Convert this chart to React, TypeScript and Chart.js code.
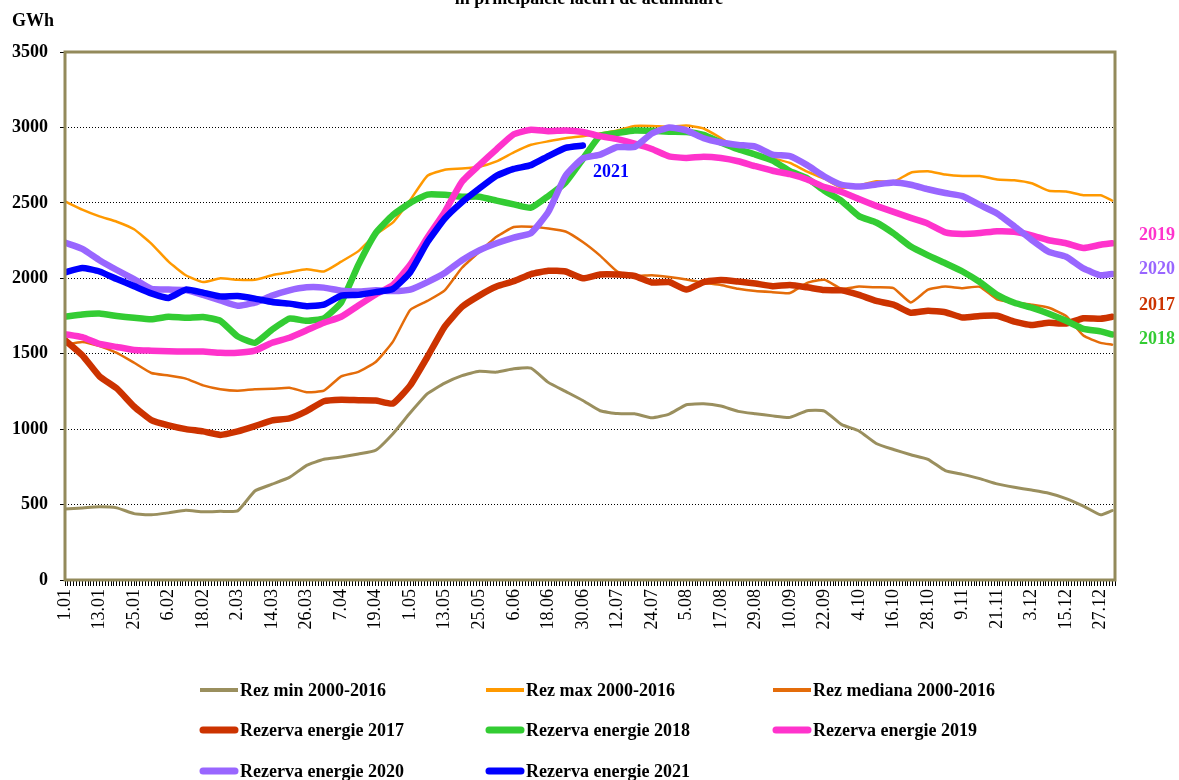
import React, { useEffect, useRef } from 'react';
import { Chart, registerables } from 'chart.js';

Chart.register(...registerables);

const FONT = "'Liberation Serif', 'Times New Roman', serif";

// day-of-year index of each sampled value (every 6 days)
const days = [0, 6, 12, 18, 24, 30, 36, 42, 48, 54, 60, 66, 72, 78, 84, 90, 96, 102, 108, 114, 120, 126, 132, 138, 144, 150, 156, 162, 168, 174, 180, 186, 192, 198, 204, 210, 216, 222, 228, 234, 240, 246, 252, 258, 264, 270, 276, 282, 288, 294, 300, 306, 312, 318, 324, 330, 336, 342, 348, 354, 360, 364];

const tickLabels = ['1.01', '13.01', '25.01', '6.02', '18.02', '2.03', '14.03', '26.03', '7.04', '19.04', '1.05', '13.05', '25.05', '6.06', '18.06', '30.06', '12.07', '24.07', '5.08', '17.08', '29.08', '10.09', '22.09', '4.10', '16.10', '28.10', '9.11', '21.11', '3.12', '15.12', '27.12'];

const rezMin = [470, 478, 485, 478, 440, 432, 445, 462, 452, 455, 458, 590, 635, 680, 760, 800, 815, 835, 860, 970, 1108, 1235, 1305, 1355, 1383, 1378, 1400, 1405, 1310, 1250, 1190, 1122, 1103, 1102, 1075, 1100, 1162, 1168, 1153, 1118, 1102, 1088, 1078, 1122, 1120, 1030, 988, 905, 865, 830, 800, 725, 700, 672, 637, 615, 596, 575, 540, 490, 432, 460];
const rezMax = [2510, 2455, 2410, 2375, 2325, 2230, 2110, 2020, 1975, 2000, 1990, 1990, 2020, 2040, 2060, 2045, 2110, 2180, 2290, 2370, 2519, 2680, 2720, 2728, 2740, 2775, 2835, 2885, 2908, 2928, 2942, 2960, 2980, 3010, 3010, 3005, 3012, 2993, 2930, 2860, 2820, 2795, 2765, 2707, 2660, 2600, 2615, 2643, 2640, 2700, 2710, 2688, 2678, 2678, 2655, 2650, 2630, 2580, 2575, 2550, 2550, 2515];
const rezMediana = [1560, 1578, 1550, 1505, 1440, 1372, 1355, 1335, 1290, 1265, 1255, 1265, 1267, 1275, 1245, 1255, 1350, 1380, 1445, 1580, 1790, 1850, 1920, 2070, 2175, 2275, 2340, 2342, 2330, 2310, 2240, 2150, 2044, 2015, 2020, 2008, 1992, 1970, 1955, 1930, 1915, 1908, 1902, 1970, 1990, 1930, 1945, 1940, 1935, 1840, 1925, 1945, 1934, 1944, 1860, 1840, 1825, 1805, 1750, 1620, 1572, 1560];
const rez2017 = [1590, 1490, 1350, 1270, 1150, 1060, 1025, 1000, 985, 962, 985, 1020, 1058, 1072, 1120, 1185, 1195, 1192, 1190, 1170, 1290, 1480, 1680, 1810, 1885, 1945, 1980, 2028, 2050, 2045, 2000, 2025, 2025, 2015, 1972, 1975, 1925, 1975, 1988, 1978, 1965, 1948, 1955, 1940, 1922, 1920, 1890, 1850, 1825, 1772, 1785, 1775, 1740, 1750, 1752, 1712, 1690, 1705, 1700, 1735, 1732, 1745];
const rez2018 = [1746, 1760, 1766, 1750, 1738, 1728, 1745, 1738, 1744, 1718, 1615, 1572, 1660, 1733, 1718, 1735, 1840, 2090, 2300, 2420, 2500, 2555, 2553, 2541, 2541, 2515, 2490, 2468, 2545, 2635, 2790, 2945, 2963, 2980, 2978, 2972, 2970, 2950, 2900, 2855, 2820, 2780, 2710, 2663, 2580, 2512, 2412, 2370, 2298, 2210, 2152, 2100, 2045, 1975, 1890, 1838, 1805, 1765, 1718, 1665, 1648, 1628];
const rez2019 = [1630, 1610, 1565, 1545, 1525, 1520, 1516, 1514, 1514, 1506, 1506, 1520, 1573, 1606, 1655, 1705, 1745, 1820, 1893, 1956, 2090, 2270, 2440, 2640, 2750, 2855, 2955, 2985, 2975, 2980, 2970, 2942, 2922, 2892, 2857, 2808, 2798, 2806, 2797, 2776, 2743, 2713, 2690, 2655, 2605, 2572, 2525, 2480, 2440, 2400, 2362, 2305, 2294, 2300, 2312, 2308, 2285, 2252, 2232, 2200, 2222, 2232];
const rez2020 = [2236, 2195, 2120, 2055, 1995, 1930, 1925, 1922, 1890, 1853, 1818, 1838, 1885, 1920, 1940, 1938, 1917, 1912, 1920, 1915, 1925, 1975, 2035, 2120, 2185, 2232, 2270, 2300, 2440, 2680, 2795, 2820, 2870, 2870, 2960, 3000, 2980, 2928, 2900, 2884, 2873, 2820, 2810, 2750, 2675, 2620, 2608, 2622, 2635, 2620, 2590, 2565, 2545, 2486, 2430, 2345, 2255, 2175, 2143, 2065, 2020, 2029];
const rez2021 = [2040, 2068, 2045, 1995, 1948, 1900, 1870, 1925, 1905, 1880, 1882, 1865, 1843, 1832, 1815, 1825, 1885, 1890, 1908, 1930, 2040, 2240, 2395, 2505, 2595, 2680, 2725, 2750, 2810, 2865, 2880];

const seriesNames = ['Rez min 2000-2016', 'Rez max 2000-2016', 'Rez mediana 2000-2016', 'Rezerva energie 2017', 'Rezerva energie 2018', 'Rezerva energie 2019', 'Rezerva energie 2020', 'Rezerva energie 2021'];
const seriesValues = [rezMin, rezMax, rezMediana, rez2017, rez2018, rez2019, rez2020, rez2021];
const seriesColors = ['#9A8F5E', '#FF9900', '#E46C0A', '#CC3300', '#33CC33', '#FF33CC', '#9966FF', '#0000FF'];
const seriesWidths = [3, 2.5, 2.5, 6.5, 6.5, 6.5, 6.5, 6.5];

const yearLabels = [
  { text: '2019', color: '#FF33CC', x: 1139, y: 235 },
  { text: '2020', color: '#9966FF', x: 1139, y: 269 },
  { text: '2017', color: '#CC3300', x: 1139, y: 305 },
  { text: '2018', color: '#33CC33', x: 1139, y: 339 },
  { text: '2021', color: '#0000FF', x: 593, y: 172 },
];

const TITLE = 'în principalele lacuri de acumulare';
const BORDER = '#938A5B';

const legendCols = [200, 486, 773];
const legendRows = [690, 730, 771];

const overlay = {
  id: 'overlay',
  afterDraw(chart: any) {
    const { ctx, chartArea: a } = chart;
    ctx.save();
    // plot border
    ctx.strokeStyle = BORDER;
    ctx.lineWidth = 3;
    ctx.strokeRect(a.left, a.top, a.right - a.left, a.bottom - a.top);

    // title (cut at the top)
    ctx.fillStyle = '#000';
    ctx.font = `bold 18px ${FONT}`;
    ctx.textAlign = 'center';
    ctx.textBaseline = 'alphabetic';
    ctx.fillText(TITLE, 589, 4);

    // unit
    ctx.textAlign = 'left';
    ctx.fillText('GWh', 12, 26);

    // year annotations
    ctx.textBaseline = 'middle';
    yearLabels.forEach((l) => {
      ctx.fillStyle = l.color;
      ctx.fillText(l.text, l.x, l.y);
    });

    // legend
    const ds = chart.data.datasets;
    ds.forEach((d: any, i: number) => {
      const col = i % 3;
      const row = Math.floor(i / 3);
      const x = legendCols[col];
      const y = legendRows[row];
      const thick = d.borderWidth >= 5;
      ctx.strokeStyle = d.borderColor;
      ctx.lineWidth = thick ? 7 : 4;
      ctx.lineCap = thick ? 'round' : 'butt';
      ctx.beginPath();
      ctx.moveTo(x + (thick ? 3 : 0), y);
      ctx.lineTo(x + 38 - (thick ? 3 : 0), y);
      ctx.stroke();
      ctx.fillStyle = '#000';
      ctx.font = `bold 18px ${FONT}`;
      ctx.textAlign = 'left';
      ctx.textBaseline = 'middle';
      ctx.fillText(d.label, x + 40, y + 1);
    });
    ctx.restore();
  },
};

export default function App() {
  const ref = useRef<HTMLCanvasElement | null>(null);

  useEffect(() => {
    if (!ref.current) return;
    const datasets = seriesNames.map((name, i) => ({
      label: name,
      data: seriesValues[i].map((v, j) => ({ x: days[j], y: v })),
      borderColor: seriesColors[i],
      backgroundColor: seriesColors[i],
      borderWidth: seriesWidths[i],
      pointRadius: 0,
      tension: 0.15,
      fill: false,
      borderCapStyle: 'round',
      borderJoinStyle: 'round',
      order: seriesNames.length - 1 - i,
    }));

    const chart = new Chart(ref.current, {
      type: 'line',
      data: { datasets } as any,
      options: {
        animation: false,
        responsive: false,
        maintainAspectRatio: false,
        layout: { padding: { top: 52, right: 64, left: 0, bottom: 0 } },
        plugins: {
          legend: { display: false },
          title: { display: false },
          tooltip: { enabled: false },
        },
        scales: {
          x: {
            type: 'linear',
            min: 0,
            max: 365,
            afterBuildTicks: (scale: any) => {
              const t = [];
              for (let i = 0; i <= 365; i++) t.push({ value: i });
              scale.ticks = t;
            },
            afterFit: (scale: any) => {
              scale.height = 200;
            },
            ticks: {
              autoSkip: false,
              minRotation: 90,
              maxRotation: 90,
              padding: 3,
              color: '#000',
              font: { family: FONT, size: 18 },
              callback: (v: any) => {
                const n = Number(v);
                if (n % 12 === 0 && n / 12 < tickLabels.length) return tickLabels[n / 12];
                return '';
              },
            },
            grid: {
              display: true,
              drawOnChartArea: false,
              drawTicks: true,
              tickLength: 6,
              color: '#000',
              tickColor: '#000',
              tickWidth: 1,
              tickBorderDash: [],
            },
            border: { display: false },
          },
          y: {
            min: 0,
            max: 3500,
            afterFit: (scale: any) => {
              scale.width = 65;
            },
            ticks: {
              stepSize: 500,
              padding: 12,
              color: '#000',
              font: { family: FONT, size: 18, weight: 'bold' },
              callback: (v: any) => String(v),
            },
            grid: {
              color: '#000',
              lineWidth: 1,
              drawTicks: true,
              tickLength: 5,
              tickColor: '#000',
              tickBorderDash: [],
              borderDash: [1, 2],
            } as any,
            border: { display: false, dash: [1, 2] },
          },
        },
      } as any,
      plugins: [overlay],
    });
    return () => chart.destroy();
  }, []);

  return (
    <div style={{ position: 'absolute', left: 0, top: 0, width: 1179, height: 780, background: '#fff' }}>
      <canvas ref={ref} width={1179} height={780} style={{ display: 'block' }} />
    </div>
  );
}
